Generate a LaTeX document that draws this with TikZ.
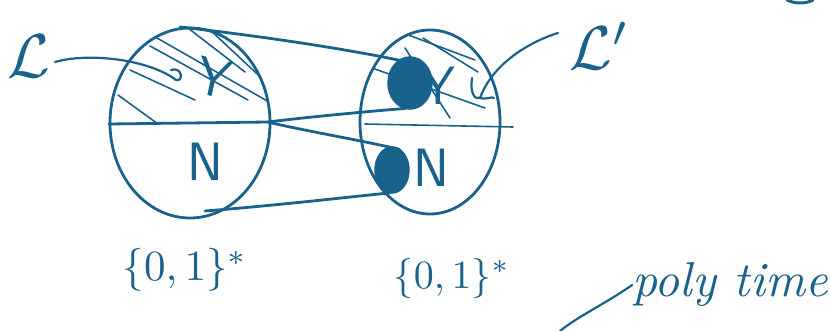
\documentclass[tikz,border=0pt]{standalone}
\usetikzlibrary{shapes.geometric}
\definecolor{ink}{RGB}{24,98,140}
\begin{document}
\begin{tikzpicture}[x=1pt,y=-1pt,
  pen/.style={draw=ink,line width=2.8pt,line cap=round,line join=round},
  thin pen/.style={draw=ink,line width=1.6pt,line cap=round},
  setshape/.style={ellipse,pen,inner sep=0pt,outer sep=0pt},
  blob/.style={ellipse,fill=ink,draw=ink,line width=1.5pt,inner sep=0pt,outer sep=0pt},
  big/.style={text=ink,font=\fontsize{54}{54}\selectfont\sffamily},
  lab/.style={text=ink},
  setlabel/.style={text=ink}]
\useasboundingbox (0,0) rectangle (830,331);
% sets
\node[setshape,minimum width=160pt,minimum height=190pt] (A) at (190,123) {};
\node[setshape,minimum width=140pt,minimum height=184pt] (B) at (430,122) {};
% dividing lines
\coordinate (Aw) at (109,124);
\coordinate (Ae) at (268,122);
\coordinate (Bw) at (365,124);
\coordinate (Be) at (513,127);
\draw[pen] (Aw) -- (Ae);
\draw[thin pen] (Bw) -- (Be);
% hatching left
\begin{scope}
  \clip (110,123) rectangle (270,20);
  \clip (190,123) ellipse (80 and 95);
  \foreach \a/\b in {{150,34}/{290,114},{150,46}/{248,100},{130,70}/{195,100},{118,95}/{158,124},{188,28}/{245,72},{208,28}/{285,100}}
    \draw[thin pen] (\a) -- (\b);
\end{scope}
% hatching right
\begin{scope}
  \clip (360,126) rectangle (510,20);
  \clip (430,122) ellipse (70 and 92);
  \foreach \a/\b in {{405,48}/{450,118},{423,38}/{478,72},{372,68}/{485,108},{395,30}/{475,60}}
    \draw[thin pen] (\a) -- (\b);
\end{scope}
% letters
\node[big,rotate=-12] (Y1) at (214,78) {Y};
\node[big] (N1) at (205,162) {N};
\node[big] (Y2) at (438,86) {Y};
\node[big] (N2) at (431,168) {N};
% blobs
\node[blob,minimum width=44pt,minimum height=52pt] (b1) at (410,83) {};
\node[blob,minimum width=34pt,minimum height=46pt] (b2) at (392,170) {};
% small marks
\coordinate (h1) at (176,80);
\draw[pen,line width=2.2pt] (171,70) .. controls (182,66) and (184,82) .. (h1);
\coordinate (h2) at (480,98);
\draw[pen,line width=2.2pt] (472,78) .. controls (470,92) and (474,100) .. (h2) .. controls (487,100) and (492,96) .. (494,98);
% connectors
\coordinate (t1) at (180,27);
\coordinate (l4) at (205,211);
\draw[pen] (t1) .. controls (260,36) and (340,48) .. (b1.115);
\draw[pen] (Ae) .. controls (300,118) and (360,112) .. (b1.-100);
\draw[pen] (Ae) .. controls (300,130) and (360,140) .. (b2.70);
\draw[pen] (l4) .. controls (270,206) and (340,198) .. (b2.-95);
% labels
\node[lab] (L) at (29,56) {\scalebox{6.2}{$\mathcal{L}$}};
\node[lab] (Lp) at (600,46) {\scalebox{6.2}{$\mathcal{L}'$}};
\coordinate (Ls) at (55,62);
\coordinate (Lps) at (558,33);
\draw[pen,line width=2.2pt] (Ls) .. controls (90,52) and (150,60) .. (h1);
\draw[pen,line width=2.2pt] (Lps) .. controls (520,45) and (490,70) .. (h2);
\node[setlabel] (S1) at (185,270) {\scalebox{4.3}{$\{0,1\}^*$}};
\node[setlabel] (S2) at (452,278) {\scalebox{4.0}{$\{0,1\}^*$}};
\node[text=ink,inner sep=0pt] (P) at (730,285) {\scalebox{4.9}{\itshape poly time}};
\coordinate (Ps) at (560,331);
\draw[pen,line width=2.2pt] (Ps) .. controls (580,315) and (605,304) .. (P.west);
% cut-off mark top right
\draw[pen,line width=3pt] (787,0) .. controls (795,4) and (806,4) .. (813,0);
\end{tikzpicture}
\end{document}
